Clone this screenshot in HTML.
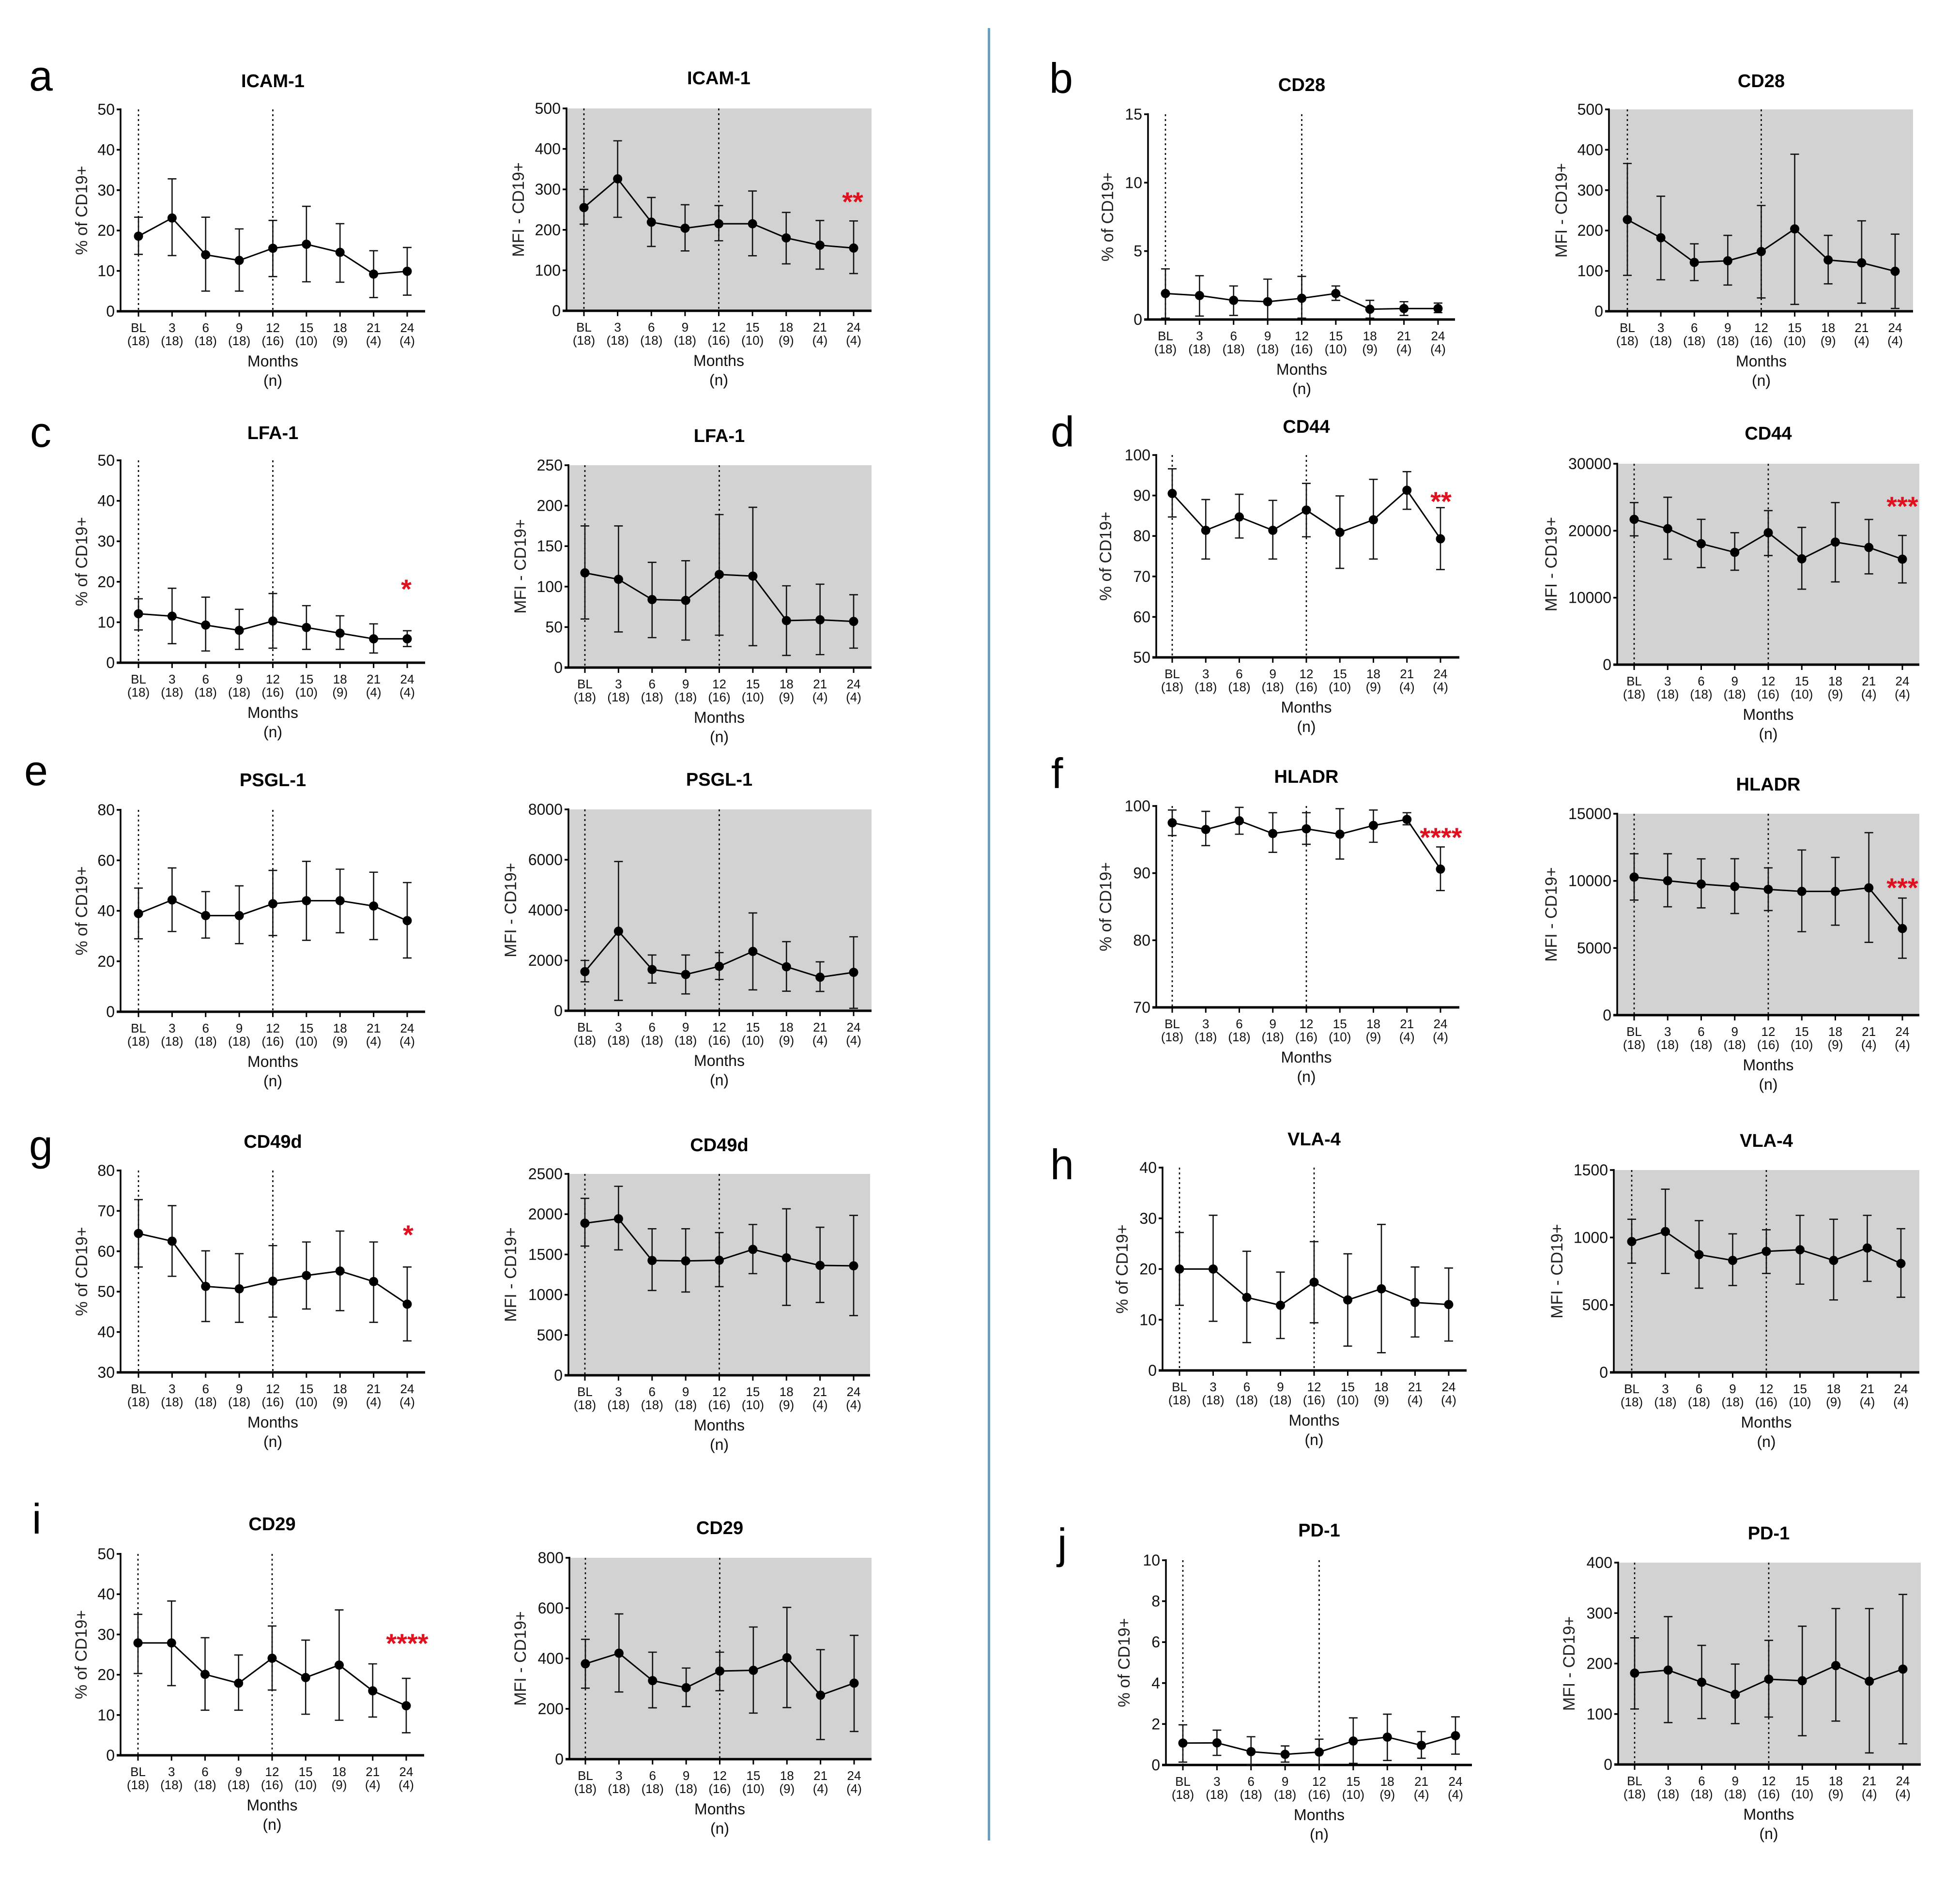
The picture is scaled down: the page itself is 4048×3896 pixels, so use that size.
<!DOCTYPE html>
<html lang="en">
<head>
<meta charset="utf-8">
<title>CD19+ marker expression over time</title>
<style>
html,body{margin:0;padding:0;background:#fff;}
svg{display:block;font-family:"Liberation Sans",sans-serif;}
</style>
</head>
<body>
<svg id="figure" xmlns="http://www.w3.org/2000/svg" width="4048" height="3896" viewBox="0 0 4048 3896">
<rect x="0" y="0" width="4048" height="3896" fill="#fff"/>
<rect x="2040" y="58" width="5" height="3744" fill="#6f9dbb"/>
<g font-size="88" fill="#000">
<text x="60" y="187">a</text>
<text x="2167" y="192">b</text>
<text x="62" y="923">c</text>
<text x="2170" y="922">d</text>
<text x="50" y="1622">e</text>
<text x="2171" y="1628">f</text>
<text x="60" y="2396">g</text>
<text x="2169" y="2436">h</text>
<text x="66" y="3168">i</text>
<text x="2184" y="3219">j</text>
</g>
</svg>
<script>
const months = ['BL','3','6','9','12','15','18','21','24'];
const counts = ['(18)','(18)','(18)','(18)','(16)','(10)','(9)','(4)','(4)'];

const aPctTicks = [0,10,20,30,40,50];
const aPctMean = [18.6,23.1,14,12.6,15.6,16.6,14.6,9.2,9.9];
const aPctUpper = [23.3,32.8,23.3,20.4,22.5,26,21.7,15,15.8];
const aPctLower = [14.1,13.8,5,5,8.6,7.3,7.2,3.4,4];

const aMfiTicks = [0,100,200,300,400,500];
const aMfiMean = [255,326,219,204,215,215,180,162,155];
const aMfiUpper = [300,420,280,262,260,296,243,223,222];
const aMfiLower = [214,231,159,148,173,136,116,103,92];

const bPctTicks = [0,5,10,15];
const bPctMean = [1.9,1.75,1.4,1.3,1.55,1.9,0.75,0.8,0.8];
const bPctUpper = [3.7,3.2,2.45,2.95,3.15,2.45,1.4,1.3,1.2];
const bPctLower = [0.1,0.25,0.3,0,0.1,1.4,0.1,0.3,0.5];

const bMfiTicks = [0,100,200,300,400,500];
const bMfiMean = [227,182,121,125,148,204,127,120,99];
const bMfiUpper = [366,285,167,188,262,389,188,224,191];
const bMfiLower = [89,78,76,65,33,17,68,20,7];

const cPctTicks = [0,10,20,30,40,50];
const cPctMean = [12.1,11.5,9.3,8,10.3,8.7,7.3,5.9,5.9];
const cPctUpper = [15.8,18.4,16.2,13.2,17.1,14.1,11.6,9.6,7.9];
const cPctLower = [8.1,4.7,2.9,3.3,3.6,3.3,3.3,2.4,4];

const cMfiTicks = [0,50,100,150,200,250];
const cMfiMean = [117,109,84,83,115,113,58,59,57];
const cMfiUpper = [175,175,130,132,189,198,101,103,90];
const cMfiLower = [60,44,37,34,40,27,15,16,24];

const dPctTicks = [50,60,70,80,90,100];
const dPctMean = [90.5,81.4,84.7,81.4,86.4,80.9,84,91.3,79.3];
const dPctUpper = [96.6,89,90.3,88.8,93,89.9,94,95.9,87];
const dPctLower = [84.7,74.3,79.5,74.3,79.8,72,74.3,86.6,71.7];

const dMfiTicks = [0,10000,20000,30000];
const dMfiMean = [21700,20300,18060,16770,19700,15800,18300,17500,15750];
const dMfiUpper = [24200,25000,21700,19700,23000,20500,24200,21680,19300];
const dMfiLower = [19230,15750,14500,14100,16300,11270,12360,13560,12200];

const ePctTicks = [0,20,40,60,80];
const ePctMean = [38.9,44.3,38.1,38.1,42.8,44,44,41.9,36.1];
const ePctUpper = [49,57,47.6,49.9,56,59.6,56.5,55.3,51.2];
const ePctLower = [28.9,31.8,29.2,27,30.2,28.3,31.3,28.6,21.3];

const eMfiTicks = [0,2000,4000,6000,8000];
const eMfiMean = [1554,3160,1640,1440,1766,2357,1748,1333,1527];
const eMfiUpper = [2000,5930,2216,2216,2310,3885,2746,1943,2940];
const eMfiLower = [1150,415,1100,670,1245,830,777,768,97];

const fPctTicks = [70,80,90,100];
const fPctMean = [97.5,96.5,97.8,95.9,96.6,95.8,97.1,98,90.6];
const fPctUpper = [99.4,99.2,99.8,99,99,99.6,99.4,99,93.9];
const fPctLower = [95.6,94.1,95.8,93.1,94.3,92.1,94.6,97.2,87.4];

const fMfiTicks = [0,5000,10000,15000];
const fMfiMean = [10280,10010,9760,9580,9365,9215,9215,9480,6450];
const fMfiUpper = [12020,12020,11640,11650,10970,12300,11750,13590,8720];
const fMfiLower = [8570,8070,7990,7570,7790,6215,6700,5420,4240];

const gPctTicks = [30,40,50,60,70,80];
const gPctMean = [64.4,62.5,51.3,50.7,52.6,54,55.1,52.5,46.9];
const gPctUpper = [72.8,71.3,60.1,59.4,61.4,62.3,65,62.3,56.1];
const gPctLower = [56.1,53.8,42.6,42.4,43.7,45.7,45.3,42.4,37.8];

const gMfiTicks = [0,500,1000,1500,2000,2500];
const gMfiMean = [1888,1943,1425,1420,1428,1563,1458,1364,1359];
const gMfiUpper = [2197,2346,1819,1819,1772,1872,2067,1838,1985];
const gMfiLower = [1604,1557,1053,1034,1100,1262,868,904,741];

const hPctTicks = [0,10,20,30,40];
const hPctMean = [20,20,14.4,12.85,17.4,13.9,16.1,13.4,13];
const hPctUpper = [27.2,30.6,23.5,19.4,25.4,23,28.8,20.4,20.2];
const hPctLower = [12.85,9.7,5.5,6.3,9.4,4.8,3.5,6.6,5.8];

const hMfiTicks = [0,500,1000,1500];
const hMfiMean = [970,1044,873,830,897,909,830,922,807];
const hMfiUpper = [1135,1358,1125,1027,1057,1164,1135,1164,1065];
const hMfiLower = [810,733,624,644,733,654,537,675,557];

const iPctTicks = [0,10,20,30,40,50];
const iPctMean = [27.9,27.9,20.1,17.9,24.1,19.3,22.4,16,12.3];
const iPctUpper = [35,38.3,29.2,24.9,32.1,28.6,36.1,22.7,19.1];
const iPctLower = [20.3,17.3,11.2,11.2,16.2,10.2,8.7,9.5,5.6];

const iMfiTicks = [0,200,400,600,800];
const iMfiMean = [379,421,312,284,350,353,403,254,302];
const iMfiUpper = [476,577,425,362,425,525,603,435,492];
const iMfiLower = [282,267,204,209,272,183,205,78,110];

const jPctTicks = [0,2,4,6,8,10];
const jPctMean = [1.07,1.08,0.65,0.52,0.63,1.17,1.36,0.96,1.43];
const jPctUpper = [1.96,1.7,1.38,0.93,1.26,2.3,2.48,1.63,2.35];
const jPctLower = [0.14,0.47,0,0.14,0,0.08,0.22,0.33,0.53];

const jMfiTicks = [0,100,200,300,400];
const jMfiMean = [181,187,163,139,169,166,196,165,189];
const jMfiUpper = [251,293,236,199,246,274,309,309,337];
const jMfiLower = [110,83,91,81,94,57,86,23,41];

const PCT = '% of CD19+';
const MFI = 'MFI - CD19+';

const charts = [
 {id:'icam-1-percent',title:'ICAM-1',yTitle:PCT,ticks:aPctTicks,mean:aPctMean,upper:aPctUpper,lower:aPctLower,ax:249,first:286,last:841,right:878,top:226,base:643,titleY:180,yTitleX:168},
 {id:'icam-1-mfi',title:'ICAM-1',yTitle:MFI,ticks:aMfiTicks,mean:aMfiMean,upper:aMfiUpper,lower:aMfiLower,ax:1170,first:1206,last:1763,right:1800,top:224,base:642,titleY:174,yTitleX:1070,shaded:true,stars:'**',starX:1761,starY:409},
 {id:'cd28-percent',title:'CD28',yTitle:PCT,ticks:bPctTicks,mean:bPctMean,upper:bPctUpper,lower:bPctLower,ax:2371,first:2407,last:2970,right:3005,top:236,base:660,titleY:188,yTitleX:2287},
 {id:'cd28-mfi',title:'CD28',yTitle:MFI,ticks:bMfiTicks,mean:bMfiMean,upper:bMfiUpper,lower:bMfiLower,ax:3323,first:3361,last:3914,right:3951,top:226,base:643,titleY:180,yTitleX:3224,shaded:true},
 {id:'lfa-1-percent',title:'LFA-1',yTitle:PCT,ticks:cPctTicks,mean:cPctMean,upper:cPctUpper,lower:cPctLower,ax:249,first:286,last:841,right:878,top:951,base:1369,titleY:907,yTitleX:168,stars:'*',starX:839,starY:1209},
 {id:'lfa-1-mfi',title:'LFA-1',yTitle:MFI,ticks:cMfiTicks,mean:cMfiMean,upper:cMfiUpper,lower:cMfiLower,ax:1174,first:1208,last:1763,right:1800,top:961,base:1379,titleY:913,yTitleX:1074,shaded:true},
 {id:'cd44-percent',title:'CD44',yTitle:PCT,ticks:dPctTicks,mean:dPctMean,upper:dPctUpper,lower:dPctLower,ax:2388,first:2421,last:2975,right:3014,top:940,base:1358,titleY:894,yTitleX:2283,stars:'**',starX:2976,starY:1028},
 {id:'cd44-mfi',title:'CD44',yTitle:MFI,ticks:dMfiTicks,mean:dMfiMean,upper:dMfiUpper,lower:dMfiLower,ax:3340,first:3375,last:3929,right:3964,top:958,base:1373,titleY:908,yTitleX:3203,shaded:true,stars:'***',starX:3929,starY:1038},
 {id:'psgl-1-percent',title:'PSGL-1',yTitle:PCT,ticks:ePctTicks,mean:ePctMean,upper:ePctUpper,lower:ePctLower,ax:249,first:286,last:841,right:878,top:1673,base:2090,titleY:1624,yTitleX:168},
 {id:'psgl-1-mfi',title:'PSGL-1',yTitle:MFI,ticks:eMfiTicks,mean:eMfiMean,upper:eMfiUpper,lower:eMfiLower,ax:1174,first:1208,last:1763,right:1800,top:1672,base:2088,titleY:1623,yTitleX:1054,shaded:true},
 {id:'hladr-percent',title:'HLADR',yTitle:PCT,ticks:fPctTicks,mean:fPctMean,upper:fPctUpper,lower:fPctLower,ax:2388,first:2421,last:2975,right:3014,top:1665,base:2081,titleY:1617,yTitleX:2283,stars:'****',starX:2976,starY:1722},
 {id:'hladr-mfi',title:'HLADR',yTitle:MFI,ticks:fMfiTicks,mean:fMfiMean,upper:fMfiUpper,lower:fMfiLower,ax:3340,first:3375,last:3929,right:3964,top:1681,base:2097,titleY:1633,yTitleX:3203,shaded:true,stars:'***',starX:3929,starY:1826},
 {id:'cd49d-percent',title:'CD49d',yTitle:PCT,ticks:gPctTicks,mean:gPctMean,upper:gPctUpper,lower:gPctLower,ax:249,first:286,last:841,right:878,top:2418,base:2835,titleY:2371,yTitleX:168,stars:'*',starX:843,starY:2543},
 {id:'cd49d-mfi',title:'CD49d',yTitle:MFI,ticks:gMfiTicks,mean:gMfiMean,upper:gMfiUpper,lower:gMfiLower,ax:1174,first:1208,last:1763,right:1797,top:2425,base:2841,titleY:2378,yTitleX:1054,shaded:true},
 {id:'vla-4-percent',title:'VLA-4',yTitle:PCT,ticks:hPctTicks,mean:hPctMean,upper:hPctUpper,lower:hPctLower,ax:2401,first:2436,last:2992,right:3029,top:2412,base:2831,titleY:2366,yTitleX:2317},
 {id:'vla-4-mfi',title:'VLA-4',yTitle:MFI,ticks:hMfiTicks,mean:hMfiMean,upper:hMfiUpper,lower:hMfiLower,ax:3333,first:3370,last:3926,right:3964,top:2417,base:2835,titleY:2369,yTitleX:3215,shaded:true},
 {id:'cd29-percent',title:'CD29',yTitle:PCT,ticks:iPctTicks,mean:iPctMean,upper:iPctUpper,lower:iPctLower,ax:249,first:285,last:839,right:876,top:3210,base:3626,titleY:3161,yTitleX:167,stars:'****',starX:841,starY:3387},
 {id:'cd29-mfi',title:'CD29',yTitle:MFI,ticks:iMfiTicks,mean:iMfiMean,upper:iMfiUpper,lower:iMfiLower,ax:1176,first:1209,last:1764,right:1800,top:3218,base:3634,titleY:3169,yTitleX:1074,shaded:true},
 {id:'pd-1-percent',title:'PD-1',yTitle:PCT,ticks:jPctTicks,mean:jPctMean,upper:jPctUpper,lower:jPctLower,ax:2408,first:2443,last:3006,right:3040,top:3223,base:3646,titleY:3174,yTitleX:2321},
 {id:'pd-1-mfi',title:'PD-1',yTitle:MFI,ticks:jMfiTicks,mean:jMfiMean,upper:jMfiUpper,lower:jMfiLower,ax:3342,first:3376,last:3930,right:3967,top:3228,base:3645,titleY:3180,yTitleX:3240,shaded:true}
];

const NS = 'http://www.w3.org/2000/svg';
const root = document.getElementById('figure');

function node(parent, tag, props, text) {
  const n = document.createElementNS(NS, tag);
  for (const k in props) n.setAttribute(k, props[k]);
  if (text !== undefined) n.textContent = text;
  parent.appendChild(n);
  return n;
}

function drawChart(c) {
  const yMin = c.ticks[0];
  const yMax = c.ticks[c.ticks.length - 1];
  const xs = i => c.first + (c.last - c.first) * i / (months.length - 1);
  const ys = v => c.base - (v - yMin) / (yMax - yMin) * (c.base - c.top);

  const g = node(root, 'g', {});
  
  

  if (c.shaded) {
    const bg = node(g, 'rect', {x: c.ax, y: c.top, width: c.right - c.ax, height: c.base - c.top, fill: '#d2d2d2'});
    
    
  }

  const title = node(g, 'text', {x: xs(4), y: c.titleY, 'text-anchor': 'middle', 'font-size': 38, 'font-weight': 'bold', fill: '#000'}, c.title);
  
  

  [0, 4].forEach(function (i) {
    const ref = node(g, 'line', {x1: xs(i), x2: xs(i), y1: c.top, y2: c.base, stroke: '#000', 'stroke-width': 2.6, 'stroke-dasharray': '4 6'});
    
    
  });

  const yAxis = node(g, 'line', {x1: c.ax, x2: c.ax, y1: c.top - 2, y2: c.base, stroke: '#000', 'stroke-width': 3.5});
  
  

  const xAxis = node(g, 'line', {x1: c.ax - 8, x2: c.right, y1: c.base, y2: c.base, stroke: '#000', 'stroke-width': 5});
  
  

  c.ticks.forEach(function (t) {
    const tick = node(g, 'line', {x1: c.ax - 8, x2: c.ax, y1: ys(t), y2: ys(t), stroke: '#000', 'stroke-width': 3.5});
    
    
    const label = node(g, 'text', {x: c.ax - 12, y: ys(t) + 11, 'text-anchor': 'end', 'font-size': 32, fill: '#111'}, String(t));
    
    
  });

  const yMid = (c.top + c.base) / 2;
  const yTitle = node(g, 'text', {x: c.yTitleX + 12, y: yMid, 'text-anchor': 'middle', 'font-size': 34, fill: '#222', transform: 'rotate(-90 ' + (c.yTitleX + 12) + ' ' + yMid + ')'}, c.yTitle);
  
  

  months.forEach(function (m, i) {
    const tick = node(g, 'line', {x1: xs(i), x2: xs(i), y1: c.base, y2: c.base + 11, stroke: '#000', 'stroke-width': 3});
    
    
    const label = node(g, 'text', {x: xs(i), y: c.base + 43, 'text-anchor': 'middle', 'font-size': 26, fill: '#111'}, m);
    
    
    const count = node(g, 'text', {x: xs(i), y: c.base + 70, 'text-anchor': 'middle', 'font-size': 26, fill: '#111'}, counts[i]);
    
    
  });

  const xTitle = node(g, 'text', {x: xs(4), y: c.base + 114, 'text-anchor': 'middle', 'font-size': 32, fill: '#111'}, 'Months');
  
  
  const nTitle = node(g, 'text', {x: xs(4), y: c.base + 154, 'text-anchor': 'middle', 'font-size': 32, fill: '#111'}, '(n)');
  
  

  c.mean.forEach(function (v, i) {
    const bar = node(g, 'path', {
      d: 'M' + xs(i) + ' ' + ys(c.lower[i]) + 'V' + ys(c.upper[i]) +
         'M' + (xs(i) - 9) + ' ' + ys(c.upper[i]) + 'H' + (xs(i) + 9) +
         'M' + (xs(i) - 9) + ' ' + ys(c.lower[i]) + 'H' + (xs(i) + 9),
      fill: 'none', stroke: '#111', 'stroke-width': 2.6});
    
    
  });

  const pts = c.mean.map(function (v, i) { return xs(i) + ',' + ys(v); }).join(' ');
  const line = node(g, 'polyline', {points: pts, fill: 'none', stroke: '#000', 'stroke-width': 3});
  
  

  c.mean.forEach(function (v, i) {
    const dot = node(g, 'circle', {cx: xs(i), cy: ys(v), r: 9.5, fill: '#000'});
    
    
  });

  if (c.stars) {
    const star = node(g, 'text', {x: c.starX, y: c.starY + 27, 'text-anchor': 'middle', 'font-size': 56, 'font-weight': 'bold', fill: '#e0101e'}, c.stars);
    
    
  }
}

charts.forEach(drawChart);
</script>
</body>
</html>
